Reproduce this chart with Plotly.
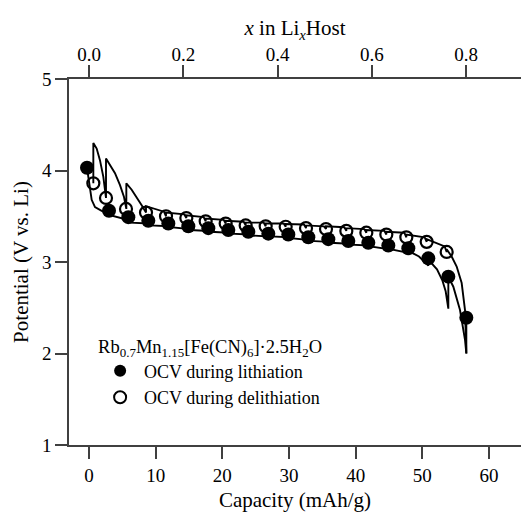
import plotly.graph_objects as go

# OCV points
lith_cap = [-0.3, 3.0, 5.9, 8.9, 11.9, 14.9, 17.9, 20.9, 23.9, 26.9, 29.9, 32.9, 35.9, 38.9, 41.9, 44.9, 47.9, 50.9, 53.9, 56.6]
lith_v = [4.03, 3.56, 3.49, 3.45, 3.42, 3.39, 3.37, 3.35, 3.33, 3.31, 3.30, 3.27, 3.25, 3.23, 3.21, 3.18, 3.15, 3.04, 2.84, 2.39]

delith_cap = [0.65, 2.55, 5.55, 8.55, 11.55, 14.6, 17.5, 20.5, 23.5, 26.5, 29.5, 32.55, 35.55, 38.6, 41.6, 44.6, 47.6, 50.65, 53.65]
delith_v = [3.86, 3.70, 3.58, 3.54, 3.50, 3.48, 3.445, 3.42, 3.40, 3.39, 3.385, 3.37, 3.36, 3.34, 3.32, 3.30, 3.27, 3.22, 3.11]

# GITT trace during lithiation
dis_cap = [-0.3, 0.15, 0.4, 0.9, 1.9, 3.0, 3.0,
           3.3, 5.9, 5.9, 6.2, 8.9, 8.9, 9.2, 11.9, 11.9, 12.2, 14.9, 14.9,
           15.2, 17.9, 17.9, 18.2, 20.9, 20.9, 21.2, 23.9, 23.9, 24.2, 26.9, 26.9,
           27.2, 29.9, 29.9, 30.2, 32.9, 32.9, 33.2, 35.9, 35.9, 36.2, 38.9, 38.9,
           39.2, 41.9, 41.9, 42.2, 44.9, 44.9, 45.2, 47.9, 47.9,
           48.2, 49.5, 50.9, 50.9, 51.2, 52.2, 53.0, 53.5, 53.9, 53.9,
           54.2, 54.65, 55.65, 56.1, 56.4, 56.6, 56.6]
dis_v = [4.03, 3.82, 3.68, 3.60, 3.56, 3.53, 3.56,
         3.51, 3.46, 3.49, 3.43, 3.42, 3.45, 3.40, 3.39, 3.42, 3.38, 3.36, 3.39,
         3.35, 3.34, 3.37, 3.33, 3.32, 3.35, 3.31, 3.30, 3.33, 3.29, 3.28, 3.31,
         3.28, 3.27, 3.30, 3.26, 3.24, 3.27, 3.23, 3.22, 3.25, 3.21, 3.20, 3.23,
         3.19, 3.18, 3.21, 3.17, 3.14, 3.18, 3.14, 3.10, 3.15,
         3.11, 3.06, 2.96, 3.04, 3.00, 2.92, 2.80, 2.68, 2.49, 2.84,
         2.80, 2.73, 2.475, 2.30, 2.15, 2.00, 2.39]

# GITT trace during delithiation
chg_cap = [56.6, 56.4, 55.9, 55.15, 54.4, 53.65, 53.65,
           53.35, 50.65, 50.65, 50.35, 47.6, 47.6, 47.3, 44.6, 44.6, 44.3, 41.6, 41.6,
           41.3, 38.6, 38.6, 38.3, 35.55, 35.55, 35.25, 32.55, 32.55, 32.25, 29.5, 29.5,
           29.2, 26.5, 26.5, 26.2, 23.5, 23.5, 23.2, 20.5, 20.5, 20.2, 17.5, 17.5,
           17.2, 14.6, 14.6, 14.3, 11.55, 11.55, 11.25, 8.55, 8.55,
           7.9, 7.15, 6.4, 5.6, 5.6,
           5.25, 4.65, 3.9, 3.15, 2.55, 2.55,
           2.5, 2.15, 1.65, 1.15, 0.65, 0.65]
chg_v = [2.00, 2.475, 2.77, 2.95, 3.06, 3.14, 3.11,
         3.17, 3.25, 3.22, 3.27, 3.30, 3.27, 3.32, 3.33, 3.30, 3.34, 3.35, 3.32,
         3.36, 3.37, 3.34, 3.38, 3.39, 3.36, 3.39, 3.40, 3.37, 3.41, 3.415, 3.385,
         3.42, 3.42, 3.39, 3.43, 3.43, 3.40, 3.44, 3.45, 3.42, 3.46, 3.475, 3.445,
         3.49, 3.51, 3.48, 3.52, 3.54, 3.50, 3.55, 3.61, 3.54,
         3.62, 3.71, 3.79, 3.86, 3.58,
         3.71, 3.84, 3.97, 4.06, 4.13, 3.70,
         3.73, 3.93, 4.11, 4.24, 4.30, 3.86]

x_ticks_bottom = [0, 10, 20, 30, 40, 50, 60]
x_ticks_top = [0.0, 0.2, 0.4, 0.6, 0.8]
y_ticks = [1, 2, 3, 4, 5]
CAP_PER_X = 70.7  # mAh/g per unit x in LixHost
CAP_RANGE = [-3.0, 64.8]

FONT = "Liberation Serif"
AX = "#404040"

fig = go.Figure()
fig.add_trace(go.Scatter(x=dis_cap, y=dis_v, mode="lines", line=dict(color="black", width=1.9),
                         showlegend=False, hoverinfo="skip"))
fig.add_trace(go.Scatter(x=chg_cap, y=chg_v, mode="lines", line=dict(color="black", width=1.9),
                         showlegend=False, hoverinfo="skip"))
fig.add_trace(go.Scatter(x=lith_cap, y=lith_v, mode="markers", name="OCV during lithiation",
                         marker=dict(symbol="circle", size=14, color="black", line=dict(width=0))))
fig.add_trace(go.Scatter(x=delith_cap, y=delith_v, mode="markers", name="OCV during delithiation",
                         marker=dict(symbol="circle-open", size=12, color="black", line=dict(width=2.2))))
# invisible trace to activate top axis
fig.add_trace(go.Scatter(x=[CAP_RANGE[0] / CAP_PER_X], y=[None], xaxis="x2", showlegend=False,
                         mode="markers", hoverinfo="skip"))

axis_common = dict(showgrid=False, zeroline=False, showline=True, linecolor=AX, linewidth=1.5,
                   ticks="outside", ticklen=12, tickwidth=1.5, tickcolor=AX,
                   tickfont=dict(family=FONT, size=19, color="black"))

fig.update_layout(
    width=522, height=512,
    margin=dict(l=69, r=1, t=79, b=67),
    paper_bgcolor="white", plot_bgcolor="white",
    font=dict(family=FONT, size=19, color="black"),
    xaxis=dict(range=CAP_RANGE, tickvals=x_ticks_bottom,
               title=dict(text="Capacity (mAh/g)", font=dict(family=FONT, size=21), standoff=9),
               **axis_common),
    xaxis2=dict(range=[CAP_RANGE[0] / CAP_PER_X, CAP_RANGE[1] / CAP_PER_X], overlaying="x", side="top",
                tickvals=x_ticks_top, ticktext=[f"{v:.1f}" for v in x_ticks_top], ticklabelstandoff=-3,
                title=dict(text="<i>x</i> in Li<sub><i>x</i></sub>Host", font=dict(family=FONT, size=21), standoff=2),
                **axis_common),
    yaxis=dict(range=[1, 5], tickvals=y_ticks,
               title=dict(text="Potential (V vs. Li)", font=dict(family=FONT, size=21), standoff=8),
               **axis_common),
    legend=dict(x=0.06, y=0.318, xanchor="left", yanchor="top", bgcolor="rgba(0,0,0,0)",
                font=dict(family=FONT, size=18), itemwidth=38,
                title=dict(text="Rb<sub>0.7</sub>Mn<sub>1.15</sub>[Fe(CN)<sub>6</sub>]·2.5H<sub>2</sub>O",
                           side="top", font=dict(family=FONT, size=18.5)),
                tracegroupgap=0, itemsizing="constant"),
    showlegend=True,
)

fig.write_html("out.html", config={"displayModeBar": False},
               post_script="document.body.style.margin='0';")
